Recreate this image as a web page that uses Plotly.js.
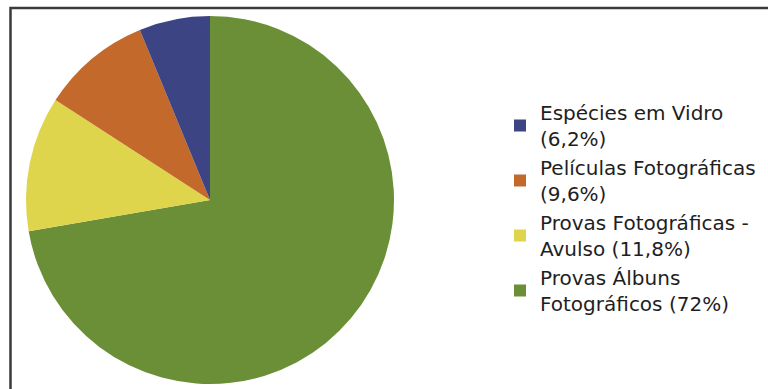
<!DOCTYPE html>
<html>
<head>
<meta charset="utf-8">
<script src="https://cdn.plot.ly/plotly-3.0.1.min.js"></script>
<style>
html,body{margin:0;padding:0;background:#fff;}
#chart{width:768px;height:389px;}
</style>
</head>
<body>
<div id="chart"></div>
<script>
// Slice order as drawn clockwise from 12 o'clock (legend is shown reversed)
const categories = ["Provas Álbuns", "Provas Fotográficas -", "Películas Fotográficas", "Espécies em Vidro"];
const legendSecondLines = ["Fotográficos (72%)", "Avulso (11,8%)", "(9,6%)", "(6,2%)"];
const shares = [72, 11.8, 9.6, 6.2];
const sliceColors = ["#6b8f37", "#dfd54d", "#c3692b", "#3c4483"];

const legendLabels = categories.map((c, i) => c + "<br>" + legendSecondLines[i]);

const trace = {
  type: "pie",
  labels: legendLabels,
  values: shares,
  sort: false,
  direction: "clockwise",
  rotation: 0,
  textinfo: "none",
  hoverinfo: "label+value",
  marker: {colors: sliceColors, line: {width: 0}},
  domain: {x: [26/768, 394/768], y: [(389-384)/389, (389-16)/389]}
};

const layout = {
  width: 768,
  height: 389,
  margin: {l: 0, r: 0, t: 0, b: 0},
  paper_bgcolor: "#ffffff",
  showlegend: true,
  font: {family: "DejaVu Sans, sans-serif", size: 20, color: "#1e1e1e"},
  legend: {
    x: 500/768, xanchor: "left",
    y: 1 - 93/389, yanchor: "top",
    traceorder: "reversed",
    font: {family: "DejaVu Sans, sans-serif", size: 20, color: "#1e1e1e"},
    bgcolor: "rgba(0,0,0,0)",
    itemclick: false
  },
  shapes: [{
    type: "rect", xref: "paper", yref: "paper",
    x0: 10.5/768, x1: 1.02, y0: -0.02, y1: 1 - 8/389,
    line: {color: "#3a3a3a", width: 2.5},
    fillcolor: "rgba(0,0,0,0)",
    layer: "below"
  }]
};

Plotly.newPlot("chart", [trace], layout, {displayModeBar: false, staticPlot: true});
</script>
</body>
</html>
